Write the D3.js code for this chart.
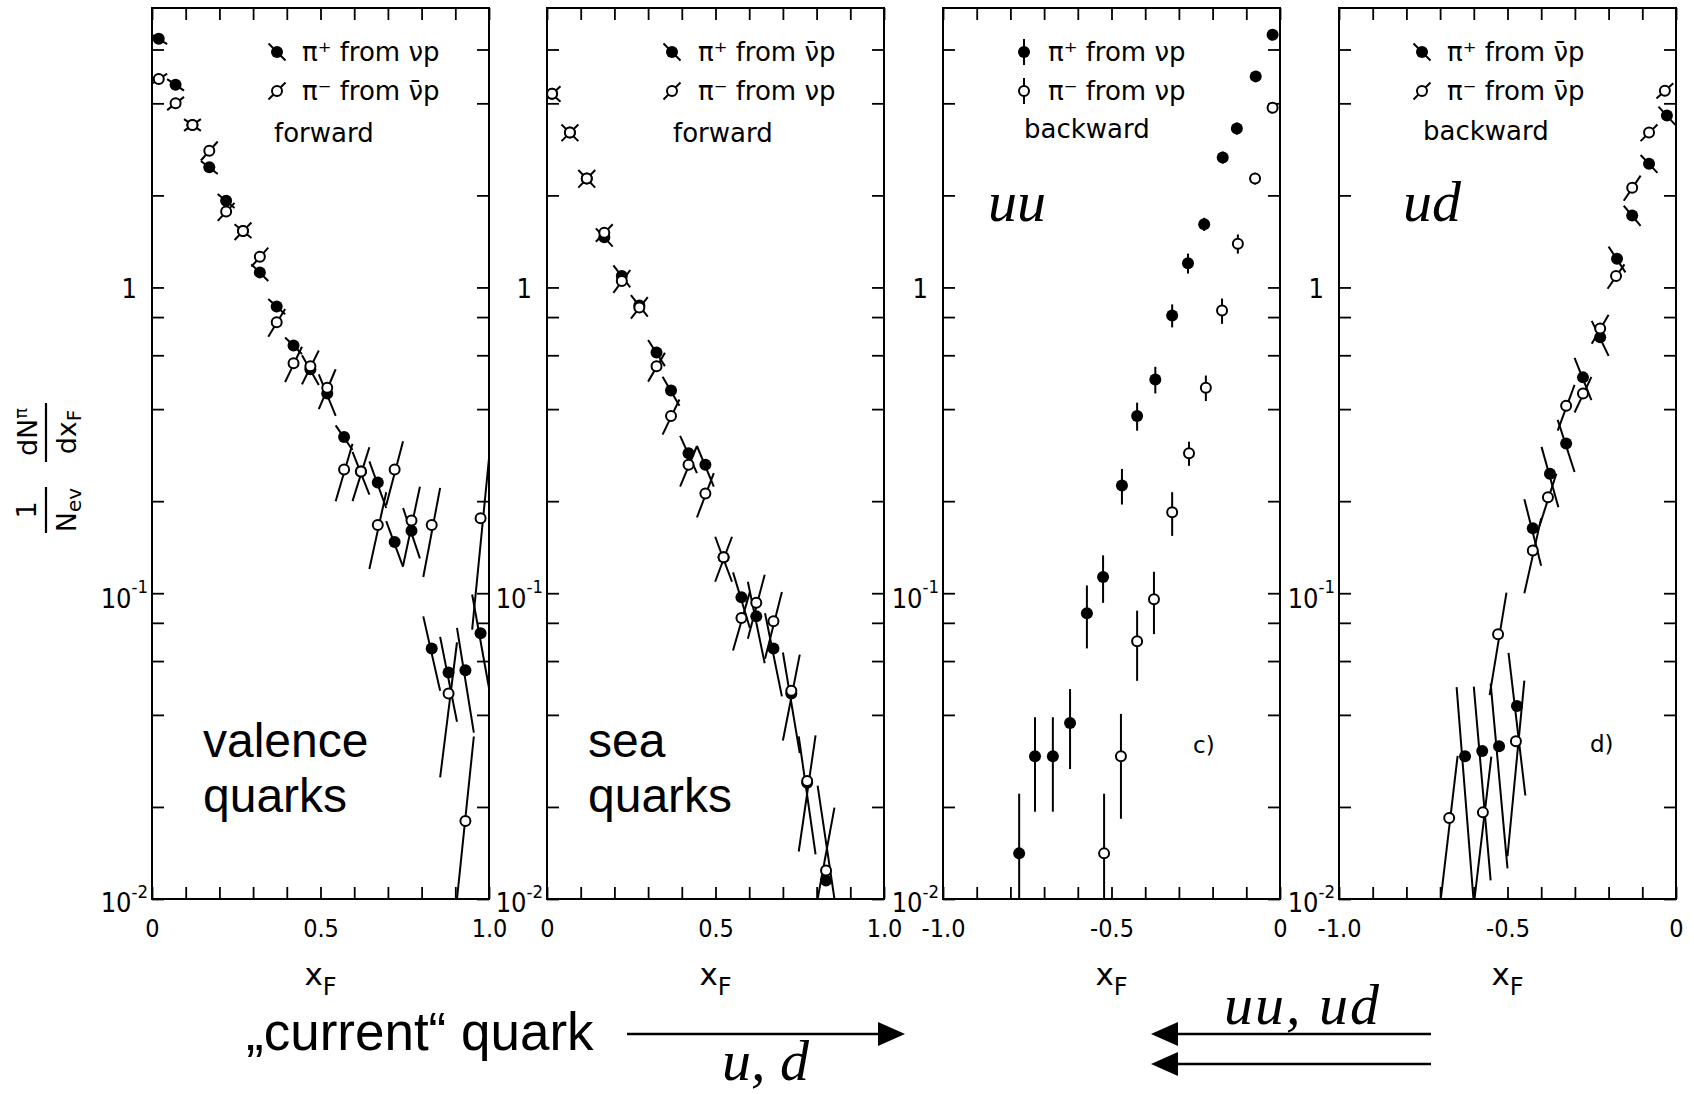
<!DOCTYPE html>
<html>
<head>
<meta charset="utf-8">
<script src="https://cdn.jsdelivr.net/npm/d3@7"></script>
<style>
  body { margin: 0; background: #fff; }
  svg { display: block; }
</style>
</head>
<body>
<div class="chart"></div>
<script>
// ---- data ----
// a) forward, valence quarks
const xA = [0.02, 0.07, 0.12, 0.17, 0.22, 0.27, 0.32, 0.37, 0.42, 0.47, 0.52, 0.57, 0.62, 0.67, 0.72, 0.77, 0.83, 0.88, 0.93, 0.975];
const aPlus = [6.5, 4.6, 3.4, 2.47, 1.92, 1.53, 1.12, 0.867, 0.646, 0.54, 0.45, 0.324, 0.25, 0.23, 0.147, 0.16, 0.066, 0.055, 0.056, 0.074];
const aPlusErr = [0.25, 0.2, 0.15, 0.12, 0.1, 0.08, 0.07, 0.05, 0.04, 0.06, 0.07, 0.03, 0.04, 0.04, 0.025, 0.03, 0.018, 0.017, 0.021, 0.025];
const aMinus = [4.8, 4.0, 3.4, 2.8, 1.77, 1.53, 1.26, 0.77, 0.565, 0.552, 0.47, 0.254, 0.25, 0.167, 0.254, 0.173, 0.167, 0.047, 0.018, 0.176];
const aMinusErr = [0.2, 0.2, 0.15, 0.2, 0.12, 0.1, 0.09, 0.08, 0.075, 0.07, 0.07, 0.054, 0.05, 0.047, 0.06, 0.05, 0.054, 0.022, 0.016, 0.1];

// b) forward, sea quarks
const xB = [0.015, 0.068, 0.118, 0.17, 0.222, 0.274, 0.325, 0.368, 0.42, 0.47, 0.524, 0.577, 0.621, 0.672, 0.725, 0.772, 0.828];
const bPlus = [4.3, 3.21, 2.27, 1.46, 1.09, 0.873, 0.613, 0.46, 0.287, 0.263, 0.131, 0.097, 0.084, 0.066, 0.047, 0.024, 0.0115];
const bPlusErr = [0.25, 0.2, 0.15, 0.1, 0.09, 0.07, 0.06, 0.05, 0.04, 0.04, 0.022, 0.02, 0.025, 0.02, 0.017, 0.01, 0.012];
const bMinus = [4.3, 3.21, 2.27, 1.51, 1.05, 0.86, 0.552, 0.38, 0.263, 0.212, 0.131, 0.083, 0.093, 0.081, 0.048, 0.0243, 0.0124];
const bMinusErr = [0.25, 0.2, 0.15, 0.1, 0.09, 0.07, 0.06, 0.05, 0.04, 0.035, 0.022, 0.018, 0.022, 0.02, 0.015, 0.01, 0.0075];

// c) backward, uu
const xCPlus = [-0.022, -0.072, -0.128, -0.17, -0.225, -0.273, -0.32, -0.37, -0.424, -0.469, -0.525, -0.573, -0.623, -0.674, -0.727, -0.774];
const cPlus = [6.7, 4.9, 3.31, 2.66, 1.61, 1.2, 0.81, 0.5, 0.38, 0.225, 0.113, 0.086, 0.0376, 0.0293, 0.0293, 0.0141];
const cPlusErr = [0.1, 0.12, 0.15, 0.12, 0.08, 0.09, 0.07, 0.05, 0.04, 0.03, 0.02, 0.02, 0.011, 0.01, 0.01, 0.008];
const xCMinus = [-0.022, -0.074, -0.125, -0.172, -0.22, -0.27, -0.32, -0.374, -0.424, -0.472, -0.522];
const cMinus = [3.87, 2.27, 1.39, 0.84, 0.47, 0.287, 0.184, 0.0955, 0.0697, 0.0293, 0.0141];
const cMinusErr = [0.08, 0.1, 0.1, 0.08, 0.045, 0.026, 0.03, 0.022, 0.018, 0.011, 0.008];

// d) backward, ud
const xDPlus = [-0.027, -0.08, -0.13, -0.175, -0.225, -0.276, -0.326, -0.374, -0.425, -0.472, -0.525, -0.575, -0.626];
const dPlus = [3.65, 2.54, 1.72, 1.24, 0.687, 0.508, 0.309, 0.246, 0.163, 0.0428, 0.0316, 0.0305, 0.0293];
const dPlusErr = [0.25, 0.17, 0.13, 0.12, 0.09, 0.08, 0.06, 0.055, 0.04, 0.021, 0.019, 0.019, 0.02];
const xDMinus = [-0.033, -0.08, -0.13, -0.178, -0.225, -0.276, -0.326, -0.38, -0.425, -0.475, -0.528, -0.573, -0.673];
const dMinus = [4.4, 3.21, 2.12, 1.09, 0.734, 0.45, 0.41, 0.206, 0.138, 0.0328, 0.0734, 0.0192, 0.0184];
const dMinusErr = [0.25, 0.2, 0.2, 0.1, 0.08, 0.06, 0.07, 0.04, 0.038, 0.019, 0.027, 0.01, 0.011];

const legendA = ["π⁺ from νp", "π⁻ from ν\u0304p", "forward"];
const legendB = ["π⁺ from ν\u0304p", "π⁻ from νp", "forward"];
const legendC = ["π⁺ from νp", "π⁻ from νp", "backward"];
const legendD = ["π⁺ from ν\u0304p", "π⁻ from ν\u0304p", "backward"];

const yTicks = [0.01, 0.02, 0.04, 0.06, 0.08, 0.1, 0.2, 0.4, 0.6, 0.8, 1, 2, 4, 6];
const yLabelTicks = [0.01, 0.1, 1];

// ---- layout ----
const width = 1694, height = 1094;
const plotTop = 8, plotBottom = 899, panelW = 337;
const binHalf = 0.025;

const tickFont = "'DejaVu Sans Condensed', 'DejaVu Sans', sans-serif";
const textFont = "'DejaVu Sans', sans-serif";
const bigFont = "'Liberation Sans', Arial, sans-serif";
const mathFont = "'Liberation Serif', 'Times New Roman', serif";

const svg = d3.select(".chart").append("svg")
  .attr("width", width).attr("height", height)
  .attr("viewBox", [0, 0, width, height]);

svg.append("rect").attr("width", width).attr("height", height).attr("fill", "#fff");

const y = d3.scaleLog().domain([0.01, 8.2]).range([plotBottom, plotTop]);

const panels = [
  {left: 152, domain: [0, 1], legend: legendA, lx: 125, tx: 150, l3x: 122, l3y: 142,
   series: [{xs: xA, ys: aPlus, es: aPlusErr, filled: true, tilt: 1},
            {xs: xA, ys: aMinus, es: aMinusErr, filled: false, tilt: -1}]},
  {left: 547, domain: [0, 1], legend: legendB, lx: 125, tx: 151, l3x: 126, l3y: 142,
   series: [{xs: xB, ys: bPlus, es: bPlusErr, filled: true, tilt: 1},
            {xs: xB, ys: bMinus, es: bMinusErr, filled: false, tilt: -1}]},
  {left: 943, domain: [-1, 0], legend: legendC, lx: 81, tx: 105, l3x: 81, l3y: 138,
   series: [{xs: xCPlus, ys: cPlus, es: cPlusErr, filled: true, tilt: 0},
            {xs: xCMinus, ys: cMinus, es: cMinusErr, filled: false, tilt: 0}]},
  {left: 1339, domain: [-1, 0], legend: legendD, lx: 83, tx: 108, l3x: 84, l3y: 140,
   series: [{xs: xDPlus, ys: dPlus, es: dPlusErr, filled: true, tilt: 1},
            {xs: xDMinus, ys: dMinus, es: dMinusErr, filled: false, tilt: -1}]}
];

panels.forEach((p, i) => {
  const x = d3.scaleLinear().domain(p.domain).range([p.left, p.left + panelW]);
  const g = svg.append("g");

  g.append("clipPath").attr("id", "clip" + i)
    .append("rect").attr("x", p.left).attr("y", plotTop).attr("width", panelW).attr("height", plotBottom - plotTop);

  // axes, ticks pointing inward on all sides
  const xt = d3.range(11).map(k => p.domain[0] + k / 10);
  const near = (a, b) => Math.abs(a - b) < 1e-9;
  const xLabel = d => (near(d, 0) ? "0" : (near(Math.abs(d), 0.5) || near(Math.abs(d), 1)) ? d.toFixed(1) : "");

  const gx = g.append("g").attr("transform", `translate(0,${plotBottom})`)
    .call(d3.axisBottom(x).tickValues(xt).tickSize(-12).tickSizeOuter(0).tickFormat(xLabel));
  gx.selectAll(".tick text").attr("y", 38).attr("dy", null)
    .attr("font-family", tickFont).attr("font-size", 25).attr("fill", "#000");

  g.append("g").attr("transform", `translate(0,${plotTop})`)
    .call(d3.axisTop(x).tickValues(xt).tickSize(-12).tickSizeOuter(0).tickFormat(""));

  const gy = g.append("g").attr("transform", `translate(${p.left},0)`)
    .call(d3.axisLeft(y).tickValues(yTicks).tickSize(-12).tickSizeOuter(0)
      .tickFormat(d => yLabelTicks.includes(d) ? "lab" : ""));
  gy.selectAll(".tick text")
    .attr("font-family", tickFont).attr("font-size", 27).attr("fill", "#000")
    .attr("text-anchor", "end")
    .each(function(d) {
      const t = d3.select(this);
      if (!yLabelTicks.includes(d)) return;
      t.text(null);
      if (d === 1) {
        t.attr("x", -15).attr("dy", "0.36em").text("1");
      } else {
        t.attr("x", -4).attr("dy", d === 0.1 ? "0.52em" : "0.47em");
        t.append("tspan").text("10");
        t.append("tspan").attr("dy", "-0.8em").attr("font-size", "0.68em")
          .text("-" + Math.round(-Math.log10(d)));
      }
    });

  g.append("g").attr("transform", `translate(${p.left + panelW},0)`)
    .call(d3.axisRight(y).tickValues(yTicks).tickSize(-12).tickSizeOuter(0).tickFormat(""));

  g.selectAll(".domain").remove();
  g.selectAll(".tick line").attr("stroke", "#000").attr("stroke-width", 1.8);

  g.append("rect")
    .attr("x", p.left).attr("y", plotTop).attr("width", panelW).attr("height", plotBottom - plotTop)
    .attr("fill", "none").attr("stroke", "#000").attr("stroke-width", 2);

  // error bars (diagonal of the bin box, or vertical in panel c)
  const eg = g.append("g").attr("clip-path", `url(#clip${i})`);
  p.series.forEach(s => {
    const pts = s.xs.map((xv, k) => ({x: xv, v: s.ys[k], e: s.es[k]}));
    eg.selectAll(null).data(pts).join("line")
      .attr("x1", d => x(d.x - s.tilt * binHalf))
      .attr("y1", d => y(Math.min(d.v + d.e, 8.2)))
      .attr("x2", d => x(d.x + s.tilt * binHalf))
      .attr("y2", d => y(Math.max(d.v - d.e, 0.01)))
      .attr("stroke", "#000").attr("stroke-width", 2);
  });
  p.series.forEach(s => {
    const pts = s.xs.map((xv, k) => ({x: xv, v: s.ys[k]}));
    g.selectAll(null).data(pts).join("circle")
      .attr("cx", d => x(d.x)).attr("cy", d => y(d.v))
      .attr("r", s.filled ? 6 : 5)
      .attr("fill", s.filled ? "#000" : "#fff")
      .attr("stroke", "#000").attr("stroke-width", s.filled ? 0 : 2);
  });

  // legend
  const rows = [52, 91];
  p.series.forEach((s, k) => {
    const cx = p.left + p.lx, cy = rows[k];
    const dx = s.tilt === 0 ? 0 : 8.5 * s.tilt;
    const dy = s.tilt === 0 ? 13 : 8.5;
    g.append("line")
      .attr("x1", cx - dx).attr("y1", cy - dy).attr("x2", cx + dx).attr("y2", cy + dy)
      .attr("stroke", "#000").attr("stroke-width", 2);
    g.append("circle").attr("cx", cx).attr("cy", cy)
      .attr("r", s.filled ? 6 : 5)
      .attr("fill", s.filled ? "#000" : "#fff")
      .attr("stroke", "#000").attr("stroke-width", s.filled ? 0 : 2);
    g.append("text").attr("x", p.left + p.tx).attr("y", cy + 9)
      .attr("font-family", textFont).attr("font-size", 26)
      .text(p.legend[k]);
  });
  g.append("text").attr("x", p.left + p.l3x).attr("y", p.l3y)
    .attr("font-family", textFont).attr("font-size", 26)
    .text(p.legend[2]);

  // x_F label
  const xf = g.append("text")
    .attr("x", p.left + panelW / 2).attr("y", 985)
    .attr("text-anchor", "middle")
    .attr("font-family", textFont).attr("font-size", 31);
  xf.append("tspan").text("x");
  xf.append("tspan").attr("dy", 10).attr("font-size", 24).text("F");
});

// panel annotations
const big = (txt, xx, yy) => svg.append("text").attr("x", xx).attr("y", yy)
  .attr("font-family", bigFont).attr("font-size", 48).text(txt);
big("valence", 203, 757);
big("quarks", 203, 812);
big("sea", 588, 757);
big("quarks", 588, 812);

const math = (txt, xx, yy, size) => svg.append("text").attr("x", xx).attr("y", yy)
  .attr("font-family", mathFont).attr("font-style", "italic").attr("font-size", size).text(txt);
math("uu", 988, 221, 58);
math("ud", 1403, 221, 58);
math("u, d", 722, 1080, 58);
math("uu, ud", 1224, 1024, 58).attr("letter-spacing", 2);

svg.append("text").attr("x", 1193).attr("y", 753)
  .attr("font-family", textFont).attr("font-size", 23).text("c)");
svg.append("text").attr("x", 1590).attr("y", 752)
  .attr("font-family", textFont).attr("font-size", 23).text("d)");

svg.append("text").attr("x", 246).attr("y", 1050)
  .attr("font-family", bigFont).attr("font-size", 53).text("\u201Ecurrent\u201C quark");

// arrows
function arrow(x1, x2, yy) {
  const dir = Math.sign(x2 - x1);
  svg.append("line").attr("x1", x1).attr("y1", yy).attr("x2", x2 - dir * 20).attr("y2", yy)
    .attr("stroke", "#000").attr("stroke-width", 2.5);
  svg.append("path")
    .attr("d", `M${x2},${yy} L${x2 - dir * 27},${yy - 12} L${x2 - dir * 27},${yy + 12} Z`)
    .attr("fill", "#000");
}
arrow(627, 905, 1034);
arrow(1431, 1151, 1034);
arrow(1431, 1151, 1064);

// y axis title: (1/N_ev) dN^pi/dx_F, rotated
const yt = svg.append("g").attr("transform", "translate(46,470) rotate(-90)")
  .attr("font-family", textFont).attr("font-size", 27);
yt.append("line").attr("x1", -63).attr("x2", -17).attr("y1", 0).attr("y2", 0)
  .attr("stroke", "#000").attr("stroke-width", 2.2);
yt.append("text").attr("x", -40).attr("y", -10).attr("text-anchor", "middle").text("1");
const nev = yt.append("text").attr("x", -40).attr("y", 30).attr("text-anchor", "middle");
nev.append("tspan").text("N");
nev.append("tspan").attr("dy", 5).attr("font-size", 20).text("ev");

yt.append("line").attr("x1", 8).attr("x2", 67).attr("y1", 0).attr("y2", 0)
  .attr("stroke", "#000").attr("stroke-width", 2.2);
const num = yt.append("text").attr("x", 38).attr("y", -9).attr("text-anchor", "middle");
num.append("tspan").text("dN");
num.append("tspan").attr("dy", -10).attr("font-size", 18).text("π");
const den = yt.append("text").attr("x", 38).attr("y", 30).attr("text-anchor", "middle");
den.append("tspan").text("dx");
den.append("tspan").attr("dy", 5).attr("font-size", 20).text("F");
</script>
</body>
</html>
